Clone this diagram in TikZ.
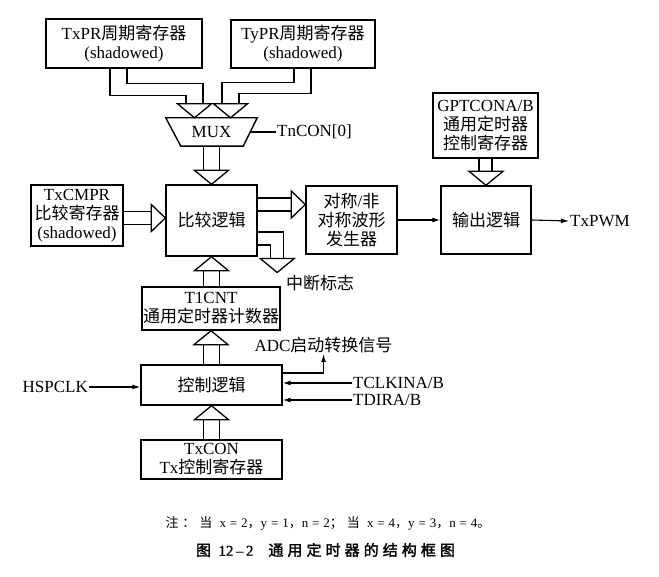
\documentclass[tikz,border=0pt]{standalone}
\usepackage{fontspec}
\setmainfont{Liberation Serif}
\newfontfamily\zhfont{Noto Sans CJK SC}
\newfontfamily\zhsp[LetterSpace=30]{Noto Sans CJK SC}
\newfontfamily\ensp[LetterSpace=30]{Liberation Serif}
\newfontfamily\zhb[FakeBold=2,LetterSpace=27]{Noto Sans CJK SC}
\newfontfamily\enb[FakeBold=1]{Liberation Serif}
\newcommand{\zh}[1]{{\zhfont #1}}
\usetikzlibrary{calc,arrows.meta}

\tikzset{
  blk/.style={draw, line width=1.4pt, align=center, inner sep=0pt, font=\fontsize{17}{19}\selectfont},
  lbl/.style={inner sep=1pt, font=\fontsize{17}{19}\selectfont},
  shaft/.style={line width=1.3pt},
  sig/.style={line width=1.1pt, -{Latex[length=8pt,width=5pt]}},
  hdown/.pic={\draw[line width=1.3pt, fill=white] (0,0) -- (-17,-14) -- (17,-14) -- cycle;},
  hup/.pic={\draw[line width=1.3pt, fill=white] (0,0) -- (-17,14) -- (17,14) -- cycle;},
  hright/.pic={\draw[line width=1.3pt, fill=white] (0,0) -- (-14,-13.5) -- (-14,13.5) -- cycle;},
}

\begin{document}
\begin{tikzpicture}[x=1pt,y=-1pt]
	\useasboundingbox (0,0) rectangle (659,577);
	% 寄存器与逻辑框
	\node[blk, minimum width=156pt, minimum height=49pt] (txpr) at (124,43.5) {TxPR\zh{周期寄存器}\\(shadowed)};
	\node[blk, minimum width=144pt, minimum height=48pt] (typr) at (303,44) {TyPR\zh{周期寄存器}\\(shadowed)};
	\node[lbl, minimum width=91pt, minimum height=28pt] (mux) at (211.5,132) {MUX};
	\draw[line width=1.4pt] (mux.north west) -- (mux.north east) -- ($(mux.south east)+(-14,0)$) -- ($(mux.south west)+(15,0)$) -- cycle;
	\node[lbl, anchor=west] (tncon) at (276,132) {TnCON[0]};
	\node[blk, minimum width=91pt, minimum height=71pt] (cmp) at (211.5,220.5) {\zh{比较逻辑}};
	\node[blk, minimum width=92pt, minimum height=61pt] (txcmpr) at (77,215.5) {TxCMPR\\\zh{比较寄存器}\\(shadowed)};
	\node[blk, minimum width=91pt, minimum height=68pt] (sym) at (351.5,220) {\zh{对称}/\zh{非}\\\zh{对称波形}\\\zh{发生器}};
	\node[blk, minimum width=90pt, minimum height=68pt] (out) at (486,220) {\zh{输出逻辑}};
	\node[blk, minimum width=105pt, minimum height=65pt] (gpt) at (485.5,125.5) {GPTCONA/B\\\zh{通用定时器}\\\zh{控制寄存器}};
	\node[lbl, anchor=west] (pwm) at (569,221) {TxPWM};
	\node[lbl] (irq) at (320,283) {\zh{中断标志}};
	\node[blk, minimum width=138pt, minimum height=43pt] (t1cnt) at (211,308.5) {T1CNT\\\zh{通用定时器计数器}};
	\node[blk, minimum width=141pt, minimum height=40pt] (ctl) at (211.5,385) {\zh{控制逻辑}};
	\node[blk, minimum width=141pt, minimum height=39pt] (txcon) at (211.5,459.5) {TxCON\\Tx\zh{控制寄存器}};
	\node[lbl] (adc) at (323.5,345) {ADC\zh{启动转换信号}};
	\node[lbl, anchor=east] (hsp) at (89,387) {HSPCLK};
	\node[lbl, anchor=west] (tclk) at (352,383) {TCLKINA/B};
	\node[lbl, anchor=west] (tdir) at (352,400) {TDIRA/B};

	% 空心箭头
	\draw[shaft] ($(txpr.south)+(-14,0)$) -- ++(0,27) -- ++(76,0) -- ++(0,10);
	\draw[shaft] ($(txpr.south)+(3,0)$) -- ++(0,15) -- ++(76,0) -- ++(0,22);
	\pic at ($(mux.north)+(-17,0)$) {hdown};
	\draw[shaft] ($(typr.south)+(-9,0)$) -- ++(0,14) -- ++(-72,0) -- ++(0,23);
	\draw[shaft] ($(typr.south)+(8,0)$) -- ++(0,25) -- ++(-72,0) -- ++(0,12);
	\pic at ($(mux.north)+(19,0)$) {hdown};
	\draw[shaft] ($(mux.south)+(-8,0)$) -- ++(0,25);
	\draw[shaft] ($(mux.south)+(8,0)$) -- ++(0,25);
	\pic at (cmp.north) {hdown};
	\draw[shaft] ($(txcmpr.east)+(0,-4)$) -- ++(29,0);
	\draw[shaft] ($(txcmpr.east)+(0,9)$) -- ++(29,0);
	\pic at ($(cmp.west)+(0,-2.5)$) {hright};
	\draw[shaft] ($(cmp.east)+(0,-22.5)$) -- ++(35,0);
	\draw[shaft] ($(cmp.east)+(0,-9.5)$) -- ++(35,0);
	\pic at ($(sym.west)+(0,-15.5)$) {hright};
	\draw[shaft] ($(cmp.east)+(0,11.5)$) -- ++(26,0) -- ++(0,26);
	\draw[shaft] ($(cmp.east)+(0,24.5)$) -- ++(13,0) -- ++(0,13);
	\pic at ($(cmp.east)+(19.5,52)$) {hdown};
	\draw[shaft] ($(t1cnt.north)+(-7.5,0)$) -- ++(0,-17);
	\draw[shaft] ($(t1cnt.north)+(8.5,0)$) -- ++(0,-17);
	\pic at (cmp.south) {hup};
	\draw[shaft] ($(ctl.north)+(-8,0)$) -- ++(0,-21);
	\draw[shaft] ($(ctl.north)+(8,0)$) -- ++(0,-21);
	\pic at (t1cnt.south) {hup};
	\draw[shaft] ($(txcon.north)+(-8,0)$) -- ++(0,-21);
	\draw[shaft] ($(txcon.north)+(8,0)$) -- ++(0,-21);
	\pic at (ctl.south) {hup};
	\draw[shaft] ($(gpt.south)+(-6.5,0)$) -- ++(0,14);
	\draw[shaft] ($(gpt.south)+(6.5,0)$) -- ++(0,14);
	\pic at (out.north) {hdown};

	% 信号线
	\draw[line width=1.1pt] ($(mux.east)+(-7,0)$) -- (tncon.west);
	\draw[sig] (sym.east) -- (out.west);
	\draw[sig] (out.east) -- (pwm.west);
	\draw[sig] (hsp.east) -- (hsp.east -| ctl.west);
	\draw[sig] (tclk.west) -- (tclk.west -| ctl.east);
	\draw[sig] (tdir.west) -- (tdir.west -| ctl.east);
	\draw[sig] ($(ctl.east)+(0,-12)$) -| (adc.south);

	% 注与图题
	\node[font=\fontsize{13}{15}\selectfont] (note) at (328,523) {\zhsp 注：当\ensp\ x=2\zhsp，\ensp y=1\zhsp，\ensp n=2\zhsp；当\ensp\ x=4\zhsp，\ensp y=3\zhsp，\ensp n=4\zhsp。};
	\node[font=\fontsize{15}{17}\selectfont] (title) at (325.5,550) {\zhb 图\ {\enb 12\,–\,2}\quad\zhb 通用定时器的结构框图};
\end{tikzpicture}
\end{document}
